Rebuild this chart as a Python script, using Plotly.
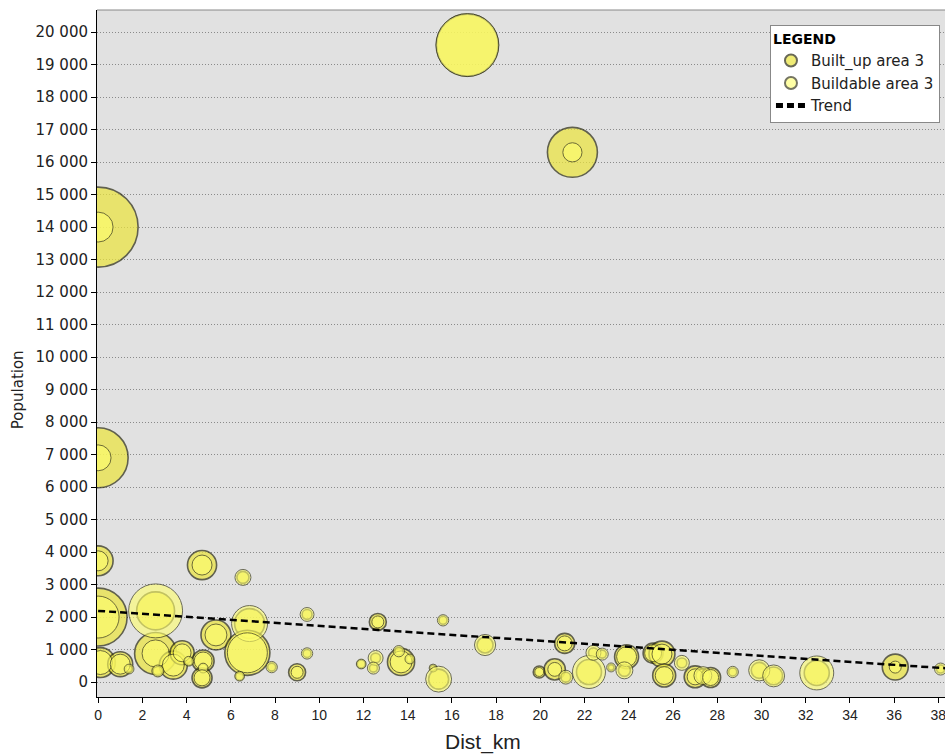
import math
import plotly.graph_objects as go

# ---- data ----
dist_km = [16.7, 21.45, 0.0, 0.0, 0.0, 4.7, 6.55, 0.0, 2.6, 5.33,
           6.85, 6.75, 6.4, 7.85, 9.0, 9.45, 9.45, 11.9, 12.55, 12.45,
           12.65, 13.7, 13.6, 14.1, 15.6, 15.15, 15.4, 17.5, 19.95, 20.65,
           21.1, 21.15, 22.2, 22.4, 22.8, 23.2, 23.9, 23.8, 25.1, 25.5,
           25.6, 26.4, 27.0, 27.35, 27.7, 28.7, 29.9, 30.55, 32.5, 36.05,
           38.1, 0.1, 1.0, 1.4, 2.6, 3.4, 3.8, 2.7, 4.1, 4.75,
           4.75, 4.7]
population = [19600, 16300, 14000, 6900, 3730, 3600, 3220, 2000, 2190, 1450,
              1800, 900, 180, 460, 300, 2080, 880, 555, 740, 430,
              1850, 620, 950, 710, 1900, 430, 90, 1140, 310, 390,
              1190, 150, 310, 900, 860, 450, 780, 360, 890, 860,
              200, 590, 160, 200, 140, 310, 360, 190, 280, 460,
              400, 600, 550, 400, 880, 520, 900, 340, 640, 650,
              430, 130]
built_up_area = [240, 156, 400, 225, 56, 53, 9, 210, 90, 56,
                 56, 127, 4, 4, 18, 6, 4, 4, 6, 4,
                 18, 46, 4, 3, 4, 2, 25, 16, 9, 28,
                 25, 6, 39, 6, 4, 2, 36, 9, 25, 42,
                 33, 6, 30, 12, 25, 4, 16, 20, 39, 42,
                 4, 56, 39, 3, 110, 49, 36, 6, 4, 30,
                 4, 25]
buildable_area = [248, 23, 56, 42, 25, 25, 16, 110, 182, 30,
                  81, 100, 6, 8, 9, 12, 8, 6, 14, 9,
                  9, 30, 8, 6, 8, 4, 42, 28, 5, 12,
                  14, 12, 68, 14, 9, 5, 25, 18, 18, 25,
                  20, 14, 16, 20, 16, 8, 28, 30, 72, 9,
                  9, 36, 25, 6, 46, 30, 20, 9, 6, 20,
                  6, 16]
trend_x = [0, 10, 20, 30, 38.3]
trend_y = [2190, 1730, 1270, 810, 425]
y_ticks = list(range(0, 20001, 1000))
x_ticks = list(range(0, 39, 2))

FONT = "'DejaVu Sans', Verdana, sans-serif"
FONT_X = "Arial, 'Liberation Sans', sans-serif"
PX_PER_SQRT_AREA = 4.0  # bubble diameter scale: d = k * sqrt(area)


def diam(areas):
    return [PX_PER_SQRT_AREA * math.sqrt(a) for a in areas]


fig = go.Figure()
fig.add_trace(go.Scatter(
    x=dist_km, y=population, mode="markers", name="Built_up area 3",
    marker=dict(size=diam(built_up_area), sizemode="diameter", sizeref=1,
                color="#ebe53c", line=dict(color="#2a2a10", width=1.6)),
))
fig.add_trace(go.Scatter(
    x=dist_km, y=population, mode="markers", name="Buildable area 3",
    marker=dict(size=diam(buildable_area), sizemode="diameter", sizeref=1,
                color="rgba(255,255,110,0.88)", line=dict(color="#3a3a20", width=1)),
))
fig.add_trace(go.Scatter(
    x=trend_x, y=trend_y, mode="lines", name="Trend",
    line=dict(color="black", width=2.5, dash="7px,4px"),
))

fig.update_layout(
    width=945, height=754,
    margin=dict(l=97, r=0, t=10, b=57, autoexpand=False),
    paper_bgcolor="white", plot_bgcolor="#e1e1e1",
    separators=". ",
    font=dict(family=FONT, size=15, color="#222"),
    showlegend=True,
    legend=dict(
        x=0.7936, y=0.978, xanchor="left", yanchor="top",
        bgcolor="white", bordercolor="#888", borderwidth=1,
        title=dict(text="<b>LEGEND</b>", font=dict(size=14, color="black")),
        font=dict(size=15, color="#222"), itemsizing="constant",
        tracegroupgap=0,
    ),
    annotations=[
        dict(text="Dist_km", xref="paper", yref="paper", x=0.455, y=-0.0655,
             xanchor="center", yanchor="middle", showarrow=False,
             font=dict(family=FONT_X, size=21, color="#222")),
        dict(text="Population", xref="paper", yref="paper", x=-0.0932, y=0.448,
             xanchor="center", yanchor="middle", showarrow=False, textangle=-90,
             font=dict(family=FONT, size=15, color="#222")),
    ],
)
fig.update_xaxes(
    range=[-0.05, 38.3], tickvals=x_ticks, showgrid=False, zeroline=False,
    showline=True, linecolor="black", linewidth=1, mirror=False,
    ticks="outside", ticklen=5, tickcolor="black", ticklabeloverflow="allow",
    tickfont=dict(family=FONT_X, size=14),
)
fig.update_yaxes(
    range=[-460, 20680], tickvals=y_ticks, tickformat=",d",
    showgrid=True, gridcolor="#8a8a8a", griddash="1px,2px", gridwidth=1,
    zeroline=False, showline=True, linecolor="black", linewidth=1,
    ticks="outside", ticklen=5, tickcolor="black",
    tickfont=dict(size=15),
)
# top border of plot area
fig.add_shape(type="line", xref="paper", yref="paper", x0=0, x1=1, y0=1, y1=1,
              line=dict(color="#888", width=1))

fig.write_html("out.html")
